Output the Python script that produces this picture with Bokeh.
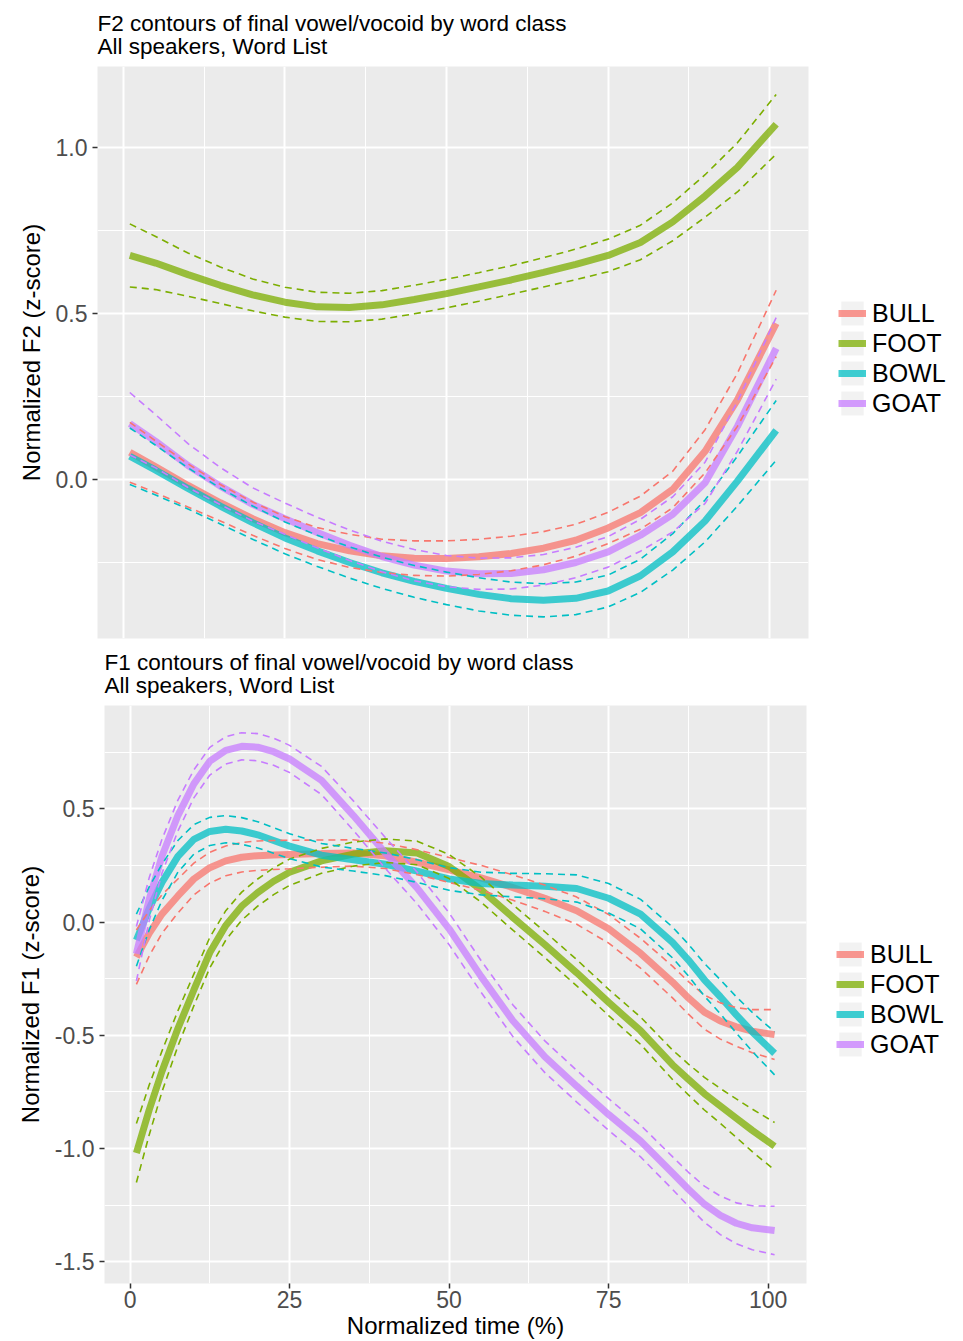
from bokeh.embed import file_html
from bokeh.layouts import column
from bokeh.models import FixedTicker, Legend, LegendItem, Range1d, Title
from bokeh.plotting import figure
from bokeh.resources import INLINE

# ---------------------------------------------------------------- data
word_classes = ["BULL", "FOOT", "BOWL", "GOAT"]
class_colors = ["#F8766D", "#7CAE00", "#00BFC4", "#C77CFF"]

# F2 panel: sample times and smooths (fit) with half-width of the confidence band
f2_time = [1, 5, 10, 15, 20, 25, 30, 35, 40, 45, 50, 55, 60, 65, 70, 75, 80, 85, 90, 95, 101]

f2_bull_fit = [0.082, 0.038, -0.018, -0.070, -0.118, -0.160, -0.193, -0.215, -0.230, -0.237, -0.238,
               -0.233, -0.223, -0.207, -0.183, -0.146, -0.100, -0.030, 0.085, 0.240, 0.470]
f2_bull_ci = [0.090, 0.078, 0.065, 0.055, 0.050, 0.048, 0.048, 0.050, 0.050, 0.052, 0.053,
              0.053, 0.052, 0.050, 0.048, 0.047, 0.050, 0.055, 0.065, 0.080, 0.100]
f2_foot_fit = [0.675, 0.652, 0.617, 0.585, 0.556, 0.534, 0.520, 0.518, 0.526, 0.542, 0.560,
               0.580, 0.601, 0.624, 0.648, 0.675, 0.714, 0.776, 0.854, 0.940, 1.070]
f2_foot_ci = [0.095, 0.080, 0.065, 0.055, 0.048, 0.045, 0.044, 0.043, 0.043, 0.043, 0.043,
              0.043, 0.043, 0.044, 0.046, 0.049, 0.052, 0.057, 0.064, 0.074, 0.090]
f2_bowl_fit = [0.070, 0.028, -0.027, -0.080, -0.130, -0.176, -0.215, -0.250, -0.281, -0.307, -0.328,
               -0.346, -0.359, -0.364, -0.358, -0.336, -0.290, -0.218, -0.125, -0.005, 0.148]
f2_bowl_ci = [0.085, 0.075, 0.062, 0.054, 0.050, 0.048, 0.047, 0.047, 0.047, 0.048, 0.049,
              0.050, 0.050, 0.050, 0.049, 0.048, 0.050, 0.055, 0.063, 0.075, 0.090]
f2_goat_fit = [0.168, 0.115, 0.042, -0.020, -0.075, -0.118, -0.160, -0.198, -0.232, -0.258, -0.276,
               -0.284, -0.283, -0.272, -0.250, -0.218, -0.168, -0.105, -0.010, 0.160, 0.395]
f2_goat_ci = [0.094, 0.080, 0.066, 0.056, 0.050, 0.047, 0.046, 0.046, 0.046, 0.047, 0.047,
              0.047, 0.047, 0.046, 0.046, 0.046, 0.048, 0.053, 0.062, 0.075, 0.093]

# F1 panel: sample times and smooths (fit) with half-width of the confidence band
f1_time = [1, 3, 5, 7.5, 10, 12.5, 15, 17.5, 20, 22.5, 25, 30, 35, 40, 45, 50, 55, 60, 65, 70,
           75, 80, 85, 87.5, 90, 92.5, 95, 97.5, 101]

f1_bull_fit = [-0.155, -0.050, 0.035, 0.115, 0.190, 0.240, 0.270, 0.286, 0.293, 0.296, 0.298,
               0.302, 0.305, 0.292, 0.264, 0.230, 0.195, 0.152, 0.105, 0.050, -0.030, -0.138,
               -0.265, -0.335, -0.398, -0.437, -0.463, -0.482, -0.497]
f1_bull_ci = [0.120, 0.100, 0.085, 0.075, 0.070, 0.068, 0.066, 0.065, 0.065, 0.064, 0.063,
              0.060, 0.058, 0.056, 0.055, 0.055, 0.055, 0.056, 0.058, 0.060, 0.063, 0.066,
              0.070, 0.072, 0.075, 0.080, 0.085, 0.095, 0.110]
f1_foot_fit = [-1.020, -0.830, -0.660, -0.470, -0.300, -0.135, -0.015, 0.070, 0.130, 0.180, 0.220,
               0.270, 0.300, 0.315, 0.305, 0.245, 0.143, 0.020, -0.100, -0.224, -0.355, -0.480,
               -0.630, -0.695, -0.758, -0.812, -0.866, -0.920, -0.990]
f1_foot_ci = [0.130, 0.110, 0.090, 0.078, 0.070, 0.067, 0.065, 0.062, 0.060, 0.059, 0.058,
              0.055, 0.053, 0.052, 0.052, 0.053, 0.055, 0.056, 0.057, 0.058, 0.058, 0.060,
              0.065, 0.068, 0.072, 0.077, 0.085, 0.094, 0.105]
f1_bowl_fit = [-0.080, 0.060, 0.175, 0.290, 0.365, 0.400, 0.410, 0.402, 0.385, 0.360, 0.335,
               0.295, 0.275, 0.255, 0.225, 0.190, 0.170, 0.163, 0.158, 0.148, 0.105, 0.035,
               -0.090, -0.168, -0.255, -0.330, -0.410, -0.485, -0.580]
f1_bowl_ci = [0.115, 0.095, 0.080, 0.070, 0.065, 0.062, 0.060, 0.059, 0.058, 0.056, 0.055,
              0.052, 0.050, 0.050, 0.050, 0.050, 0.050, 0.052, 0.055, 0.060, 0.065, 0.065,
              0.068, 0.070, 0.072, 0.075, 0.080, 0.086, 0.095]
f1_goat_fit = [-0.140, 0.100, 0.290, 0.470, 0.610, 0.710, 0.758, 0.776, 0.772, 0.752, 0.720,
               0.625, 0.470, 0.305, 0.150, -0.030, -0.240, -0.436, -0.595, -0.725, -0.850, -0.967,
               -1.108, -1.180, -1.246, -1.295, -1.330, -1.350, -1.362]
f1_goat_ci = [0.120, 0.095, 0.075, 0.068, 0.062, 0.061, 0.060, 0.060, 0.060, 0.060, 0.060,
              0.062, 0.065, 0.068, 0.070, 0.070, 0.070, 0.070, 0.070, 0.070, 0.070, 0.070,
              0.072, 0.075, 0.080, 0.085, 0.090, 0.097, 0.107]

x_ticks = [0, 25, 50, 75, 100]
x_tick_labels = ["0", "25", "50", "75", "100"]
x_minor = [12.5, 37.5, 62.5, 87.5]

f2_ticks = [0.0, 0.5, 1.0]
f2_tick_labels = ["0.0", "0.5", "1.0"]
f2_minor = [-0.25, 0.25, 0.75]

f1_ticks = [-1.5, -1.0, -0.5, 0.0, 0.5]
f1_tick_labels = ["-1.5", "-1.0", "-0.5", "0.0", "0.5"]
f1_minor = [-1.25, -0.75, -0.25, 0.25, 0.75]

# ---------------------------------------------------------------- styling
FONT = "Liberation Sans"
PANEL_BG = "#EBEBEB"
KEY_BG = "#F2F2F2"
TICK_COLOR = "#4D4D4D"


def build_panel(time, fits, cis, y_range, y_ticks, y_labels, y_minor, y_title, title_text,
                frame, borders, x_title, legend_xy):
    p = figure(frame_width=frame[0], frame_height=frame[1], frame_align=False,
               x_range=Range1d(-4, 106), y_range=Range1d(*y_range),
               x_axis_location="below" if x_title else None,
               output_backend="svg", toolbar_location=None,
               min_border_left=borders[0], min_border_right=borders[1],
               min_border_top=borders[2], min_border_bottom=borders[3])
    p.background_fill_color = PANEL_BG
    p.border_fill_color = "white"
    p.outline_line_color = None

    # grids
    p.xgrid.ticker = FixedTicker(ticks=x_ticks, minor_ticks=x_minor)
    p.ygrid.ticker = FixedTicker(ticks=y_ticks, minor_ticks=y_minor)
    for g in (p.xgrid, p.ygrid):
        g.grid_line_color = "white"
        g.grid_line_width = 2
        g.minor_grid_line_color = "white"
        g.minor_grid_line_width = 1

    # axes
    axes = [p.yaxis[0]]
    p.yaxis.ticker = FixedTicker(ticks=y_ticks, minor_ticks=y_minor)
    p.yaxis.major_label_overrides = dict(zip(y_ticks, y_labels))
    p.yaxis.axis_label = y_title
    p.yaxis.axis_label_standoff = 8
    p.yaxis.major_label_standoff = 5
    if x_title:
        axes.append(p.xaxis[0])
        p.xaxis.ticker = FixedTicker(ticks=x_ticks, minor_ticks=x_minor)
        p.xaxis.major_label_overrides = dict(zip(x_ticks, x_tick_labels))
        p.xaxis.major_label_standoff = 2
        p.xaxis.axis_label = x_title
        p.xaxis.axis_label_standoff = 1
    for ax in axes:
        ax.axis_line_color = None
        ax.major_tick_line_color = "#333333"
        ax.major_tick_line_width = 1.5
        ax.major_tick_out = 5
        ax.major_tick_in = 0
        ax.minor_tick_line_color = None
        ax.major_label_text_font = FONT
        ax.major_label_text_font_size = "23px"
        ax.major_label_text_color = TICK_COLOR
        ax.axis_label_text_font = FONT
        ax.axis_label_text_font_size = "24px"
        ax.axis_label_text_font_style = "normal"
        ax.axis_label_text_color = "black"

    # smoothed contours first, confidence bounds on top
    solid = []
    for fit, col in zip(fits, class_colors):
        solid.append(p.line(time, fit, line_color=col, line_width=7, line_alpha=0.75))
    for fit, ci, col in zip(fits, cis, class_colors):
        upper = [f + e for f, e in zip(fit, ci)]
        lower = [f - e for f, e in zip(fit, ci)]
        for bound in (upper, lower):
            p.line(time, bound, line_color=col, line_width=1.6, line_dash="7 5")

    # zero-area quad that supplies the grey key background in the legend
    key_bg = p.quad(left=[time[0]], right=[time[0]],
                    bottom=[fits[0][0]], top=[fits[0][0]],
                    fill_color=KEY_BG, line_color=None)

    items = [LegendItem(label=name, renderers=[key_bg, r])
             for name, r in zip(word_classes, solid)]
    legend = Legend(items=items, location=legend_xy, orientation="vertical",
                    glyph_width=28, glyph_height=30, spacing=0, label_standoff=6,
                    padding=0, margin=0, border_line_color=None,
                    background_fill_alpha=0, label_text_font=FONT,
                    label_text_font_size="25px", label_text_line_height=1.0,
                    label_text_color="black")
    p.add_layout(legend, "right")

    # two-line plot title
    p.add_layout(Title(text=title_text, text_font=FONT, text_font_size="22.5px",
                       text_font_style="normal", text_color="black", align="left",
                       text_line_height=0.92, standoff=15), "above")
    return p


f2_panel = build_panel(
    time=f2_time,
    fits=[f2_bull_fit, f2_foot_fit, f2_bowl_fit, f2_goat_fit],
    cis=[f2_bull_ci, f2_foot_ci, f2_bowl_ci, f2_goat_ci],
    y_range=(-0.479, 1.244), y_ticks=f2_ticks, y_labels=f2_tick_labels, y_minor=f2_minor,
    y_title="Normalized F2 (z-score)",
    title_text="F2 contours of final vowel/vocoid by word class\nAll speakers, Word List",
    frame=(711, 572), borders=(97, 155, 66, 1), x_title=None,
    legend_xy=(30, 220))

f1_panel = build_panel(
    time=f1_time,
    fits=[f1_bull_fit, f1_foot_fit, f1_bowl_fit, f1_goat_fit],
    cis=[f1_bull_ci, f1_foot_ci, f1_bowl_ci, f1_goat_ci],
    y_range=(-1.596, 0.956), y_ticks=f1_ticks, y_labels=f1_tick_labels, y_minor=f1_minor,
    y_title="Normalized F1 (z-score)",
    title_text="F1 contours of final vowel/vocoid by word class\nAll speakers, Word List",
    frame=(702, 578), borders=(104, 157, 66, 58), x_title="Normalized time (%)",
    legend_xy=(30, 224))

layout = column(f2_panel, f1_panel, spacing=0)

with open("out.html", "w") as fh:
    fh.write(file_html(layout, INLINE))
